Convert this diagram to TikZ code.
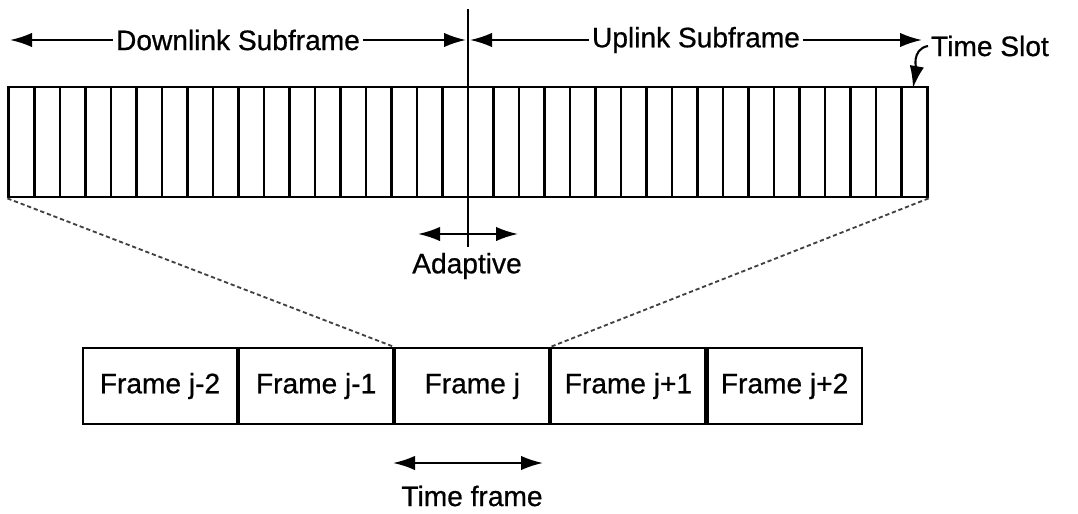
\documentclass[tikz,border=0pt]{standalone}
\usepackage{fontspec}
\setmainfont{Liberation Sans}
\newfontfamily\scanfont{Liberation Sans}[FakeBold=0.7]
\usetikzlibrary{arrows.meta,positioning}

\begin{document}
\begin{tikzpicture}[x=0.025cm,y=-0.025cm,
    lbl/.style={font=\scanfont\fontsize{20}{24}\selectfont,inner sep=2pt},
    tip/.style={-{Latex[length=5.5mm,width=3.6mm]},line width=1.5pt},
    twotip/.style={{Latex[length=5.5mm,width=3.6mm]}-{Latex[length=5.5mm,width=3.6mm]},line width=1.5pt},
    framebox/.style={draw,line width=1.5pt,minimum width=3.85cm,minimum height=1.9cm,
      inner sep=0pt,font=\scanfont\fontsize{20}{24}\selectfont}]
  \useasboundingbox (0,0) rectangle (1078,513);

  % slot bar: 36 time slots, 18 down + 18 up
  \node[draw,line width=2pt,minimum width=22.95cm,minimum height=2.75cm,inner sep=0pt] (bar) at (468,142) {};
  \foreach \i in {1,...,35}
    \draw[line width=2pt] (9+\i*25.5,87) -- (9+\i*25.5,197);
  \draw[line width=1.5pt] (468,9) -- (468,247);

  % subframe spans
  \node[lbl] (down) at (238,40) {Downlink Subframe};
  \node[lbl] (up) at (696,40) {Uplink Subframe};
  \coordinate (dl) at (10,40);
  \coordinate (dr) at (466,40);
  \coordinate (ul) at (470,40);
  \coordinate (ur) at (922,40);
  \draw[tip] (down.west) -- (dl);
  \draw[tip] (down.east) -- (dr);
  \draw[tip] (up.west) -- (ul);
  \draw[tip] (up.east) -- (ur);

  \node[lbl,anchor=west] (slot) at (928,46) {Time Slot};
  \coordinate (lastslot) at (913,88);
  \draw[tip] (slot.west) to[out=190,in=80] (lastslot);

  % adaptive boundary
  \coordinate (ad1) at (418,234);
  \coordinate (ad2) at (518,234);
  \draw[twotip] (ad1) -- (ad2);
  \node[lbl] (adapt) at (467,266) {Adaptive};

  % frame row
  \node[framebox] (f0) at (160,386) {Frame j-2};
  \node[framebox,right=0pt of f0] (f1) {Frame j-1};
  \node[framebox,right=0pt of f1] (f2) {Frame j};
  \node[framebox,right=0pt of f2] (f3) {Frame j+1};
  \node[framebox,right=0pt of f3] (f4) {Frame j+2};

  \begin{scope}[densely dashed,line width=1.3pt,black!75]
    \draw (bar.south west) -- (f2.north west);
    \draw (bar.south east) -- (f2.north east);
  \end{scope}

  % one frame period
  \coordinate (tf1) at (393,463);
  \coordinate (tf2) at (543,463);
  \draw[twotip] (tf1) -- (tf2);
  \node[lbl] (tframe) at (472,496) {Time frame};
\end{tikzpicture}
\end{document}
